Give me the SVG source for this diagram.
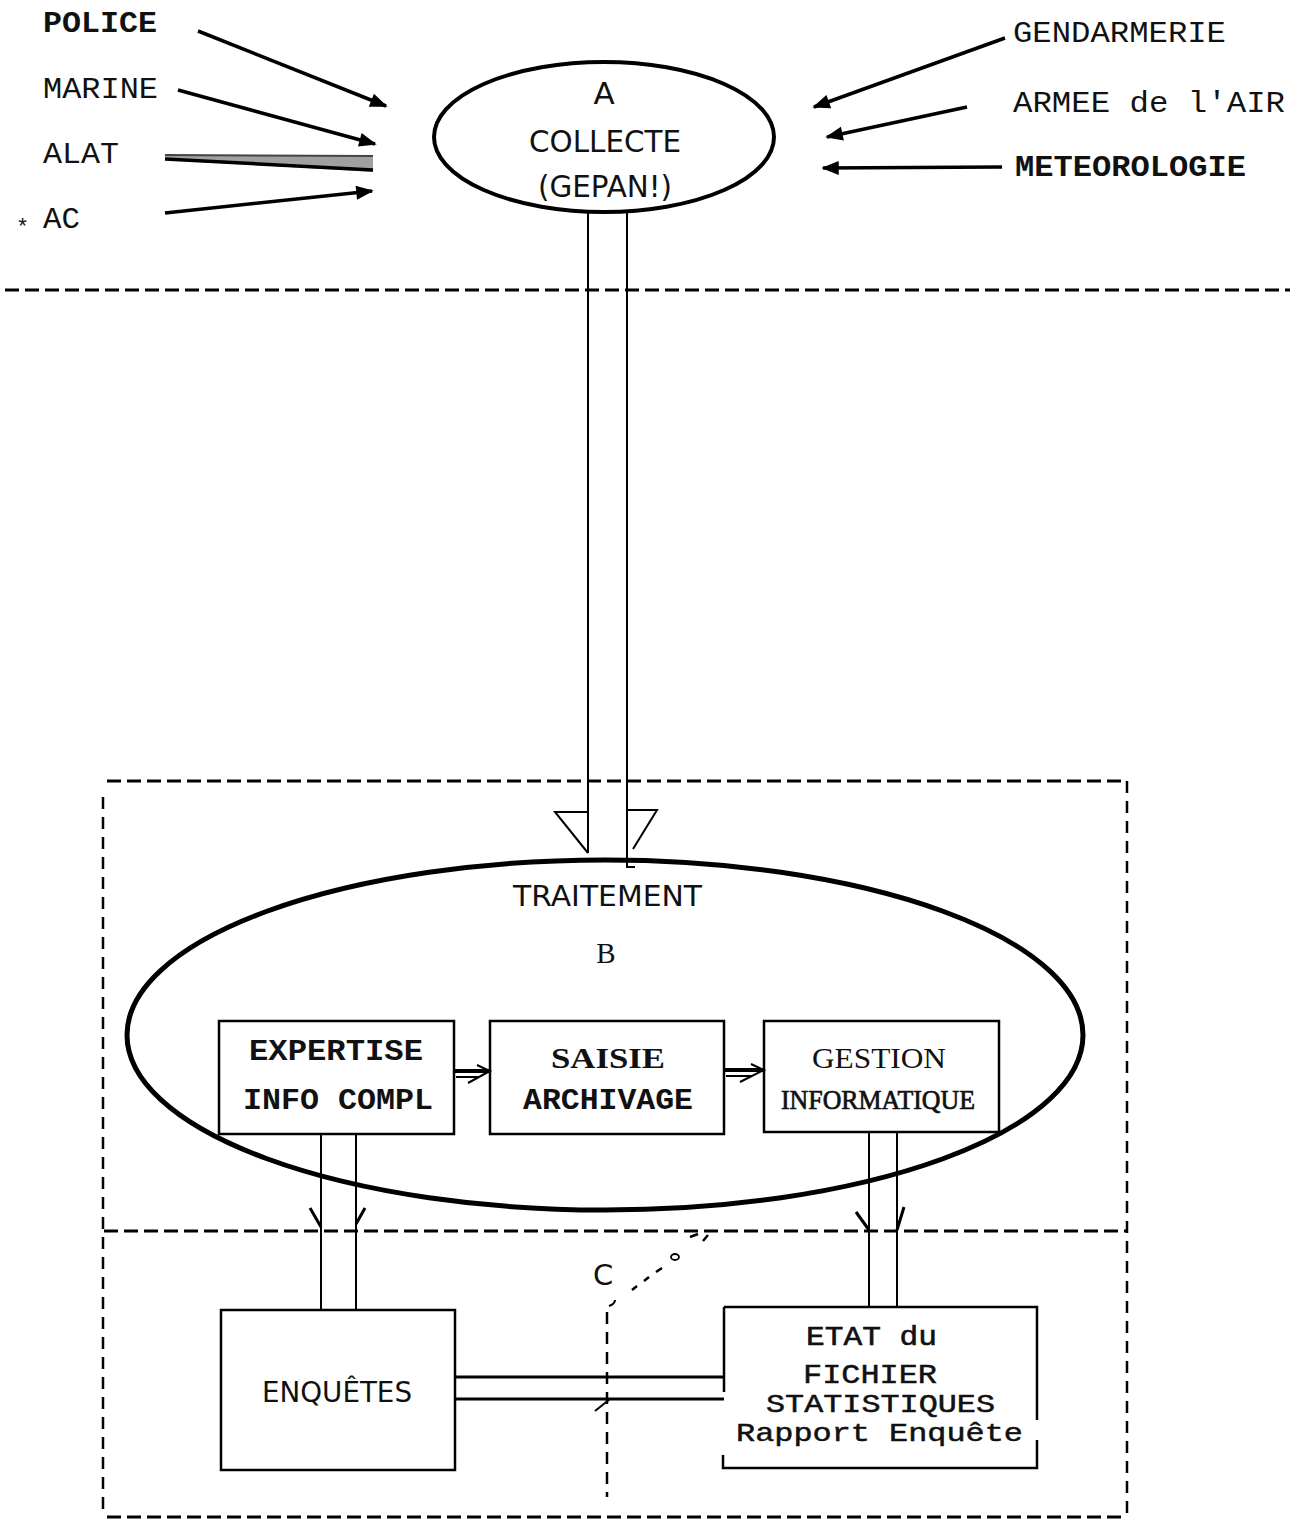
<svg xmlns="http://www.w3.org/2000/svg" width="1290" height="1519" viewBox="0 0 1290 1519">
<style>
.mono{font-family:"Liberation Mono","DejaVu Sans Mono",monospace;font-size:30px;fill:#111}
.monob{font-family:"Liberation Mono","DejaVu Sans Mono",monospace;font-size:30px;font-weight:bold;fill:#111}
.sans{font-family:"DejaVu Sans","Liberation Sans",sans-serif;font-size:31px;fill:#111}
.serif{font-family:"Liberation Serif","DejaVu Serif",serif;font-size:29px;fill:#111}
.serifb{font-family:"Liberation Serif","DejaVu Serif",serif;font-size:29px;font-weight:bold;fill:#111}
.ln{stroke:#000;stroke-width:2;fill:none}
.arr{stroke:#000;stroke-width:3.5;fill:none}
.dash{stroke:#000;stroke-width:3;fill:none;stroke-dasharray:14 6}
.vdash{stroke:#000;stroke-width:2.5;fill:none;stroke-dasharray:12 8}
.box{stroke:#000;stroke-width:2.5;fill:#fff}
</style>
<defs>
<marker id="ah" viewBox="0 0 10 10" refX="9" refY="5" markerWidth="5.5" markerHeight="5" orient="auto" markerUnits="strokeWidth">
<path d="M0,1 L10,5 L0,9 z" fill="#000"/>
</marker>
</defs>

<g id="separators">
<line class="dash" x1="5" y1="290" x2="1290" y2="290"/>
<path class="dash" d="M107,781 H1127"/>
<path class="vdash" d="M103,797 V1515"/>
<path class="vdash" d="M1127,781 V1515"/>
<path class="dash" d="M104,1231 H1127"/>
<path class="dash" d="M107,1517 H1127"/>
<path class="vdash" d="M607,1312 V1497"/>
<path class="ln" d="M609,1306 q6,-2 6,-6"/>
<path class="ln" d="M595,1411 L610,1399"/>
</g>

<g id="sources-left">
<text class="monob" x="43" y="32" textLength="114" lengthAdjust="spacingAndGlyphs">POLICE</text>
<text class="mono" x="43" y="98" textLength="115" lengthAdjust="spacingAndGlyphs">MARINE</text>
<text class="mono" x="43" y="163" textLength="76" lengthAdjust="spacingAndGlyphs">ALAT</text>
<text class="mono" x="16" y="234" style="font-size:22px">*</text>
<text class="mono" x="43" y="228" textLength="37" lengthAdjust="spacingAndGlyphs">AC</text>
</g>

<g id="sources-right">
<text class="mono" x="1013" y="42" textLength="213" lengthAdjust="spacingAndGlyphs">GENDARMERIE</text>
<text class="mono" x="1013" y="112" textLength="272" lengthAdjust="spacingAndGlyphs">ARMEE de l'AIR</text>
<text class="monob" x="1015" y="176" textLength="231" lengthAdjust="spacingAndGlyphs">METEOROLOGIE</text>
</g>

<g id="node-A">
<ellipse cx="604" cy="137" rx="170" ry="75" fill="none" stroke="#000" stroke-width="4"/>
<text class="sans" x="604" y="104" text-anchor="middle">A</text>
<text class="sans" x="529" y="152" textLength="152" lengthAdjust="spacingAndGlyphs">COLLECTE</text>
<text class="sans" x="538" y="197" textLength="134" lengthAdjust="spacingAndGlyphs">(GEPAN!)</text>
</g>

<g id="node-B">
<ellipse cx="605" cy="1035" rx="478" ry="175" fill="none" stroke="#000" stroke-width="5"/>
<text class="sans" x="513" y="906" textLength="189" lengthAdjust="spacingAndGlyphs" style="font-size:29px">TRAITEMENT</text>
<text class="serif" x="606" y="963" text-anchor="middle">B</text>
</g>

<g id="node-expertise">
<rect class="box" x="219" y="1021" width="235" height="113"/>
<text class="monob" x="249" y="1060" textLength="174" lengthAdjust="spacingAndGlyphs">EXPERTISE</text>
<text class="monob" x="243" y="1109" textLength="190" lengthAdjust="spacingAndGlyphs">INFO COMPL</text>
</g>

<g id="node-saisie">
<rect class="box" x="490" y="1021" width="234" height="113"/>
<text class="serifb" x="551" y="1068" textLength="114" lengthAdjust="spacingAndGlyphs">SAISIE</text>
<text class="monob" x="523" y="1109" textLength="170" lengthAdjust="spacingAndGlyphs">ARCHIVAGE</text>
</g>

<g id="node-gestion">
<rect class="box" x="764" y="1021" width="235" height="111"/>
<text class="serif" x="812" y="1068" textLength="134" lengthAdjust="spacingAndGlyphs">GESTION</text>
<text class="serif" x="781" y="1109" textLength="194" lengthAdjust="spacingAndGlyphs" style="font-size:27px;stroke:#111;stroke-width:0.7">INFORMATIQUE</text>
</g>

<g id="node-enquetes">
<rect class="box" x="221" y="1310" width="234" height="160"/>
<text class="sans" x="262" y="1402" textLength="150" lengthAdjust="spacingAndGlyphs" style="font-size:28px">ENQUÊTES</text>
</g>

<g id="node-C">
<text class="sans" x="593" y="1285" style="font-size:29px">C</text>
<path d="M632,1290 l5,-4 M644,1281 l5,-4 M656,1272 l6,-4" stroke="#000" stroke-width="2.5" fill="none"/>
<ellipse cx="675" cy="1257" rx="4" ry="3" fill="none" stroke="#000" stroke-width="1.8"/>
<path d="M690,1237 l8,-3 M703,1241 l5,-6" stroke="#000" stroke-width="2.5" fill="none"/>
</g>

<g id="node-etat">
<path class="ln" d="M724,1307 H1037 V1420 M1037,1440 V1468 H723 V1455 M724,1307 V1392" style="stroke-width:2.5"/>
<text class="mono" x="806" y="1345" textLength="131" lengthAdjust="spacingAndGlyphs" style="font-size:28px;stroke:#111;stroke-width:0.6">ETAT du</text>
<text class="mono" x="803" y="1383" textLength="134" lengthAdjust="spacingAndGlyphs" style="font-size:28px;stroke:#111;stroke-width:0.5">FICHIER</text>
<text class="mono" x="766" y="1412" textLength="229" lengthAdjust="spacingAndGlyphs" style="font-size:26px;stroke:#111;stroke-width:0.5">STATISTIQUES</text>
<text class="mono" x="736" y="1441" textLength="287" lengthAdjust="spacingAndGlyphs" style="font-size:26px;stroke:#111;stroke-width:0.5">Rapport Enquête</text>
</g>

<g id="connectors">
<line class="arr" x1="198" y1="31" x2="386" y2="106" marker-end="url(#ah)"/>
<line class="arr" x1="178" y1="90" x2="375" y2="144" marker-end="url(#ah)"/>
<polygon points="165,155 373,155 373,172 358,171 165,160" fill="#a0a0a0" stroke="none"/>
<line x1="165" y1="159" x2="373" y2="170" stroke="#000" stroke-width="3.5"/>
<line x1="165" y1="155" x2="373" y2="156" stroke="#444" stroke-width="2"/>
<line class="arr" x1="165" y1="213" x2="372" y2="191" marker-end="url(#ah)"/>
<line class="arr" x1="1005" y1="38" x2="814" y2="107" marker-end="url(#ah)"/>
<line class="arr" x1="967" y1="107" x2="827" y2="137" marker-end="url(#ah)"/>
<line class="arr" x1="1002" y1="167" x2="823" y2="168" marker-end="url(#ah)"/>
<path class="ln" d="M588,212 V853"/>
<path class="ln" d="M627,212 V867 H635"/>
<path class="ln" d="M588,853 L555,812 H588"/>
<path class="ln" d="M627,810 H657 L633,849"/>
<path d="M454,1071 H490" stroke="#000" stroke-width="4" fill="none"/>
<path class="ln" d="M477,1065 L490,1071 L468,1083 M456,1077 H478"/>
<path d="M724,1070 H764" stroke="#000" stroke-width="4" fill="none"/>
<path class="ln" d="M751,1064 L764,1070 L740,1082 M726,1076 H752"/>
<path class="ln" d="M321,1134 V1310 M356,1134 V1310"/>
<path d="M310,1208 L321,1227 M365,1208 L356,1224" stroke="#000" stroke-width="3" fill="none"/>
<path class="ln" d="M869,1132 V1307 M897,1132 V1307"/>
<path d="M856,1212 L869,1230 M904,1207 L897,1230" stroke="#000" stroke-width="3" fill="none"/>
<path d="M455,1377 H724 M455,1399 H724" stroke="#000" stroke-width="3" fill="none"/>
</g>
</svg>
